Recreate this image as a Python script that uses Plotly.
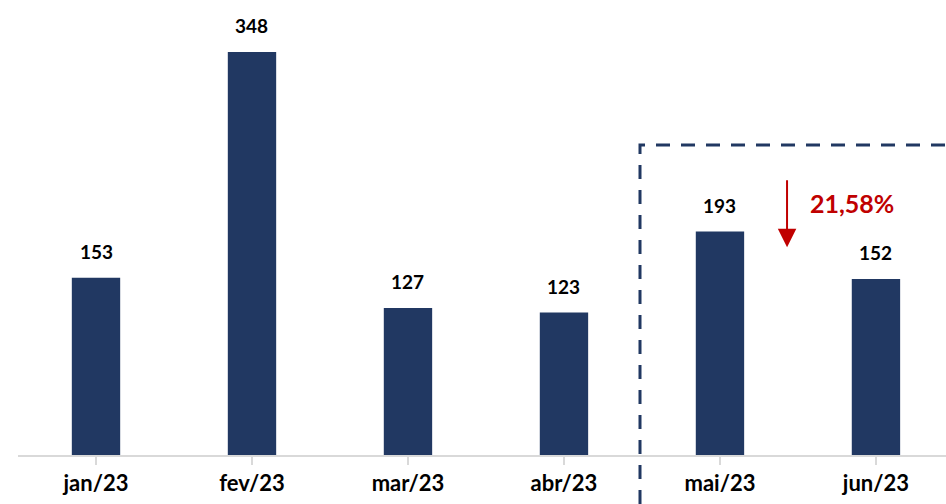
import plotly.graph_objects as go

categories = ["jan/23", "fev/23", "mar/23", "abr/23", "mai/23", "jun/23"]
values = [153, 348, 127, 123, 193, 152]
change_label = "21,58%"

BAR = "#213862"
RED = "#C00000"
FONT = "Lato"

fig = go.Figure()
fig.add_trace(go.Bar(
    x=list(range(len(categories))), y=values,
    marker=dict(color=BAR, line=dict(width=0)),
    width=0.31, hoverinfo="skip",
))

for i, v in enumerate(values):
    fig.add_annotation(x=i, y=v, text=f"<b>{v}</b>", showarrow=False,
                       yanchor="bottom", yshift=13,
                       font=dict(family=FONT, size=19, color="black"))

# arrow between mai and jun
fig.add_annotation(x=4.43, y=179.5, ax=0, ay=-77, text=" ", showarrow=True,
                   arrowhead=2, arrowsize=1.85, arrowwidth=2, arrowcolor=RED,
                   axref="pixel", ayref="pixel")
fig.add_annotation(x=4.845, y=218, text=f"<b>{change_label}</b>", showarrow=False,
                   font=dict(family=FONT, size=25, color=RED))

# dashed highlight box
x0 = (640 - 18) / 928
ytop = (455 - 145) / 455
ybot = -49 / 455
fig.add_shape(type="path", xref="paper", yref="paper",
              path=f"M {x0},{ybot} L {x0},{ytop} L 1.0,{ytop}",
              line=dict(color=BAR, width=3, dash="14px,11px"))

fig.update_layout(
    width=946, height=504,
    margin=dict(l=18, r=0, t=0, b=49),
    plot_bgcolor="white", paper_bgcolor="white",
    showlegend=False, bargap=0.69,
    xaxis=dict(range=[-0.5, 5.449], tickmode="array",
               tickvals=list(range(len(categories))),
               ticktext=[f"<b>{c}</b>" for c in categories],
               tickson="boundaries", ticks="outside", ticklen=8,
               tickcolor="#d9d9d9", tickwidth=1.5,
               showline=True, linecolor="#d9d9d9", linewidth=1.5,
               showgrid=False, zeroline=False,
               tickfont=dict(family=FONT, size=22, color="black"),
               fixedrange=True),
    yaxis=dict(range=[0, 393], visible=False, showgrid=False, zeroline=False,
               fixedrange=True),
)

fig.write_html("out.html", config={"displayModeBar": False},
               post_script="document.body.style.margin='0';")
